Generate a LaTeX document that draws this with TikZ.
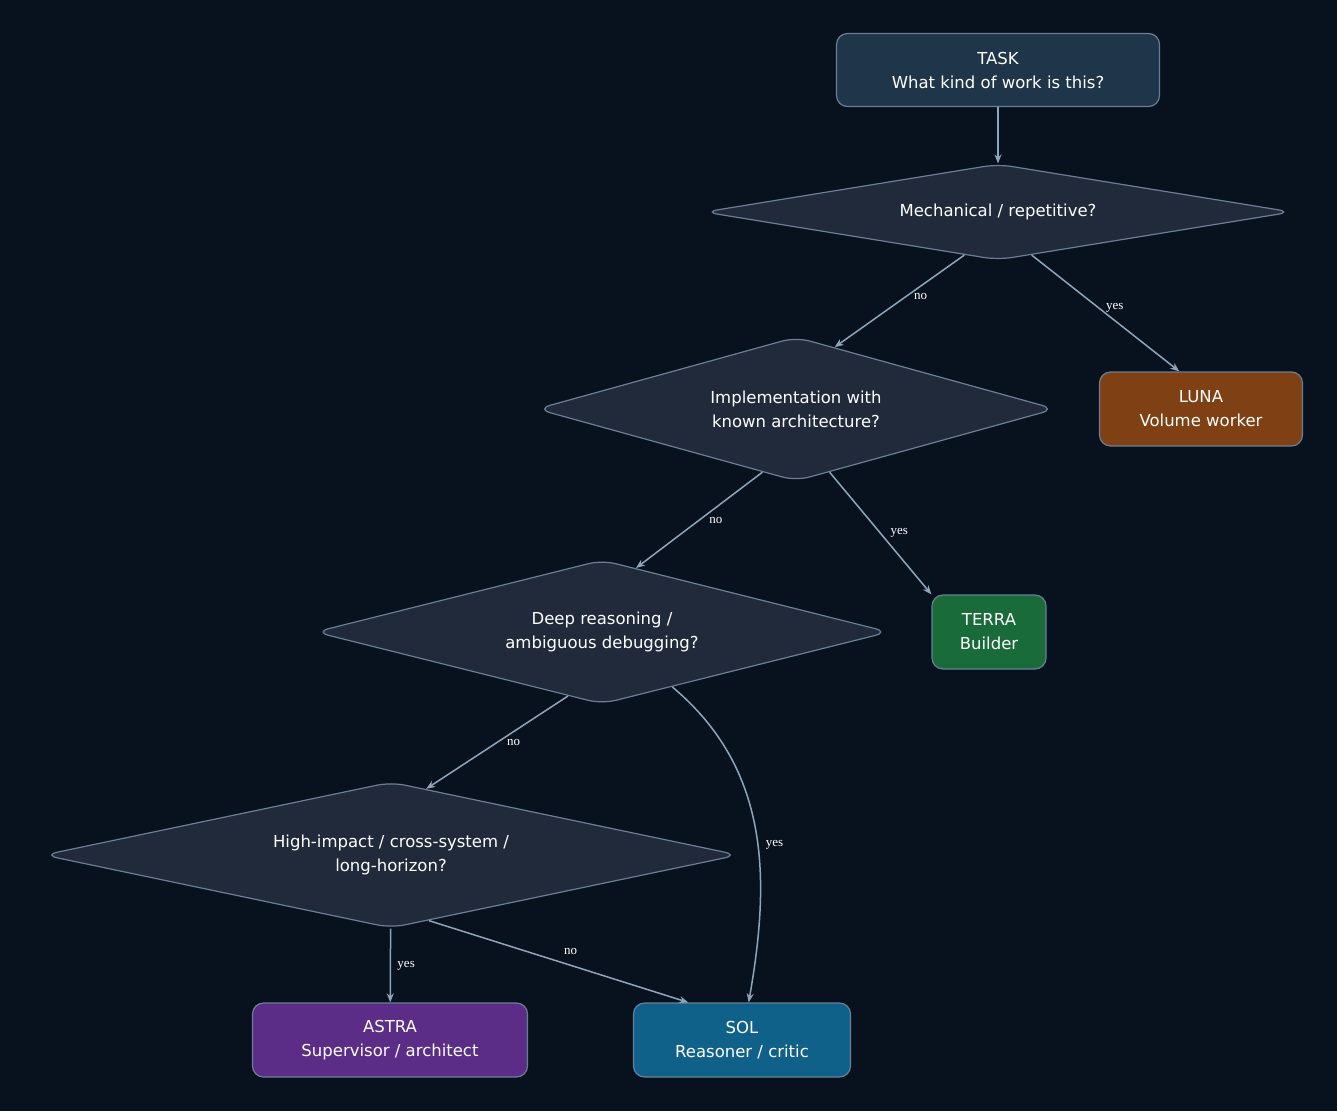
\documentclass[tikz,border=0pt]{standalone}
\usepackage{fontspec}
\setmainfont{DejaVu Sans}
\newfontfamily\lblfont{Liberation Serif}
\usetikzlibrary{shapes.geometric,arrows.meta}
\definecolor{bg}{HTML}{08121E}
\definecolor{dfill}{HTML}{212A3A}
\definecolor{bordc}{HTML}{6A7F95}
\definecolor{edgec}{HTML}{8FA5BA}
\definecolor{taskc}{HTML}{1F3549}
\definecolor{lunac}{HTML}{7F4114}
\definecolor{terrac}{HTML}{1A6B3A}
\definecolor{astrac}{HTML}{5B2D86}
\definecolor{solc}{HTML}{10618A}
\begin{document}
\begin{tikzpicture}[x=1pt,y=-1pt,
  box/.style={draw=bordc,line width=1.2pt,rounded corners=11pt,text=white,align=center,
    font=\fontsize{16.5}{24}\selectfont,inner sep=0pt},
  dec/.style={diamond,draw=bordc,fill=dfill,line width=1.2pt,rounded corners=14pt,text=white,
    align=center,font=\fontsize{16.5}{24}\selectfont,inner sep=0pt},
  arr/.style={draw=edgec,line width=1.5pt,-{Stealth[length=9pt,width=7pt]}},
  lbl/.style={text=white,font=\lblfont\fontsize{13}{15}\selectfont}]
\fill[bg] (0,0) rectangle (1337,1111);
\useasboundingbox (0,0) rectangle (1337,1111);
\node[box,fill=taskc,minimum width=323pt,minimum height=73pt] (task) at (998,70) {TASK\\What kind of work is this?};
\node[dec,aspect=6.1,minimum width=588pt,minimum height=96pt] (d1) at (998,212) {Mechanical / repetitive?};
\node[dec,aspect=3.6,minimum width=519pt,minimum height=144pt] (d2) at (796,409) {Implementation with\\known architecture?};
\node[box,fill=lunac,minimum width=203pt,minimum height=74pt] (luna) at (1201,409) {LUNA\\Volume worker};
\node[dec,aspect=4,minimum width=574pt,minimum height=144pt] (d3) at (602,632) {Deep reasoning /\\ambiguous debugging?};
\node[box,fill=terrac,minimum width=114pt,minimum height=74pt] (terra) at (989,632) {TERRA\\Builder};
\node[dec,aspect=4.76,minimum width=695pt,minimum height=146pt] (d4) at (391,855) {High-impact / cross-system /\\long-horizon?};
\node[box,fill=astrac,minimum width=275pt,minimum height=74pt] (astra) at (390,1040) {ASTRA\\Supervisor / architect};
\node[box,fill=solc,minimum width=217pt,minimum height=74pt] (sol) at (742,1040) {SOL\\Reasoner / critic};

\draw[arr] (task) -- (d1);
\draw[arr] (d1.-128) -- node[lbl,pos=0.45,right=4pt]{no} (d2.58);
\draw[arr] (d1.-52) -- node[lbl,pos=0.45,right=4pt]{yes} (luna.120);
\draw[arr] (d2.-118) -- node[lbl,midway,right=6pt]{no} (d3.62);
\draw[arr] (d2.-62) -- node[lbl,midway,right=6pt]{yes} (terra.north west);
\draw[arr] (d3.-118) -- node[lbl,midway,right=6pt]{no} (d4.62);
\draw[arr] (d3.-38) to[out=-40,in=80] node[lbl,pos=0.55,right=4pt]{yes} (sol.80);
\draw[arr] (d4) -- node[lbl,midway,right=3pt]{yes} (astra);
\draw[arr] (d4.-60) -- node[lbl,midway,xshift=12pt,yshift=10pt]{no} (sol.145);
\end{tikzpicture}
\end{document}
